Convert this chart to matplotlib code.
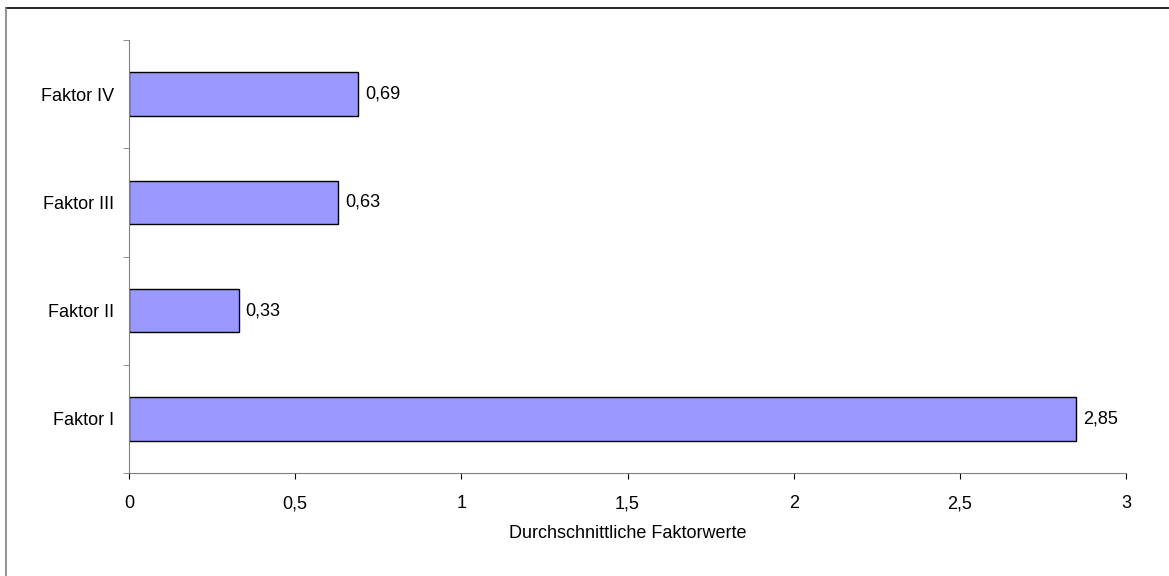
import matplotlib.pyplot as plt
import numpy as np

plt.rcParams['font.family'] = ['Liberation Sans', 'DejaVu Sans']

factors = ['Faktor I', 'Faktor II', 'Faktor III', 'Faktor IV']
values = [2.85, 0.33, 0.63, 0.69]
value_labels = ['2,85', '0,33', '0,63', '0,69']
x_ticks = [0, 0.5, 1, 1.5, 2, 2.5, 3]
x_ticklabels = ['0', '0,5', '1', '1,5', '2', '2,5', '3']

fig = plt.figure(figsize=(11.69, 5.76), dpi=100)
ax = fig.add_axes([129/1169, 1 - 473/576, 997/1169, 433/576])

y = np.arange(len(factors))
ax.barh(y, values, height=0.4, color='#9999ff', edgecolor='#000000', linewidth=1)
for yi, v, lab in zip(y, values, value_labels):
    ax.text(v + 0.02, yi, lab, va='center', ha='left', fontsize=13)

ax.set_xlim(0, 3)
ax.set_ylim(-0.5, 3.5)
ax.set_xticks(x_ticks)
ax.set_xticklabels(x_ticklabels, fontsize=13)
ax.set_yticks(y)
ax.set_yticklabels(factors, fontsize=13)
ax.set_yticks(np.arange(-0.5, 4, 1), minor=True)
ax.tick_params(axis='y', which='major', length=0, pad=11)
ax.tick_params(axis='y', which='minor', length=4, color='#808080', direction='out')
ax.tick_params(axis='x', length=4, color='#000000', direction='out', pad=12)
ax.set_xlabel('Durchschnittliche Faktorwerte', fontsize=13, labelpad=9)

for s in ['top', 'right']:
    ax.spines[s].set_visible(False)
ax.spines['left'].set_color('#808080')
ax.spines['bottom'].set_color('#808080')

# outer frame (only top and left edges visible)
fig.add_artist(plt.Line2D([6/1169, 1], [1 - 8/576, 1 - 8/576], color='black', lw=1.2,
                          transform=fig.transFigure))
fig.add_artist(plt.Line2D([6/1169, 6/1169], [0, 1 - 8/576], color='#808080', lw=1.2,
                          transform=fig.transFigure))

fig.savefig('out.png', dpi=100)
